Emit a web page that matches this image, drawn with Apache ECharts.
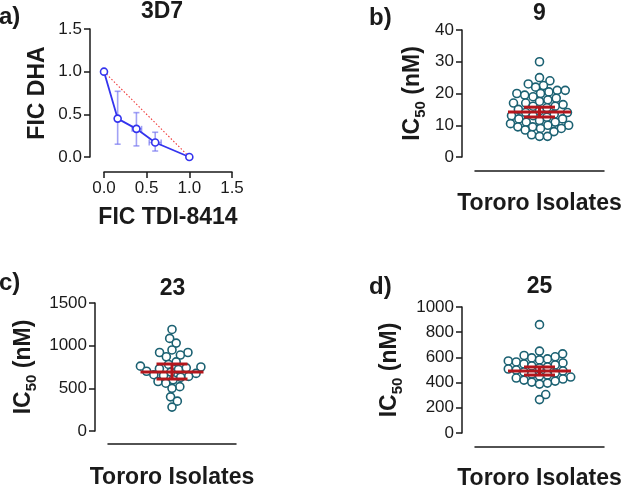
<!DOCTYPE html>
<html><head><meta charset="utf-8">
<script src="https://cdn.jsdelivr.net/npm/echarts@6/dist/echarts.min.js"></script>
<style>html,body{margin:0;padding:0;background:#fff}#c{width:622px;height:488px}</style>
</head><body><div id="c"></div>
<script>
// ---- Panel a: isobologram (3D7) ----
const ficTDI   = [0.00, 0.16, 0.38, 0.60, 1.00];
const ficDHA   = [1.00, 0.45, 0.33, 0.17, 0.00];
const ficDHAlo = [1.00, 0.15, 0.13, 0.07, 0.00];
const ficDHAhi = [1.00, 0.77, 0.52, 0.29, 0.00];
const ficTDIlo = [0.00, 0.16, 0.33, 0.53, 1.00];
const ficTDIhi = [0.00, 0.16, 0.44, 0.67, 1.00];
const additivityX = [0, 1];
const additivityY = [1, 0];
const ficTicks = [0, 0.5, 1.0, 1.5];

// ---- Panels b-d: IC50 of Tororo isolates ----
const ic50_9 = [30, 25, 24, 23, 22.5, 22, 21, 21, 20.5, 20, 20, 19.5, 19, 18.5, 18, 17.5, 17, 17, 16.5, 16,
  16, 15.5, 15, 14.5, 14, 14, 13.5, 13, 13, 12.5, 12, 12, 11.5, 11, 11, 10.5, 10, 10, 9.5, 9.5,
  9, 9, 8.5, 8, 7, 6.5, 6.5];
const ic50_23 = [1190, 1085, 1030, 950, 920, 920, 890, 870, 810, 780, 760, 750, 740, 730, 720,
  700, 690, 675, 660, 650, 640, 630, 600, 580, 560, 520, 500, 400, 350, 280];
const ic50_25 = [860, 650, 628, 615, 605, 596, 588, 580, 572, 564, 556, 548, 540, 532, 524, 516, 508,
  500, 492, 484, 476, 468, 460, 452, 444, 436, 428, 420, 412, 404, 396, 388, 305, 265];
// mean, lower CI, upper CI
const stats_9  = [14.2, 12.6, 15.7];
const stats_23 = [691, 609, 785];
const stats_25 = [492, 460, 524];
const titles = ['3D7', '9', '23', '25'];
const letters = ['a)', 'b)', 'c)', 'd)'];

// ---- layout ----
const G = [
  {left: 104, top: 29,  width: 128, height: 128},
  {left: 475, top: 30,  width: 129, height: 127},
  {left: 108, top: 303, width: 128, height: 128},
  {left: 475, top: 307, width: 129, height: 126}
];
const FONT = 'Liberation Sans, Arial, sans-serif';
const INK = '#1a1a1a';
const TEAL = '#1b6172';
const RED = '#b3161c';

function swarm(values, yMin, yMax, plotH, plotW, d) {
  const idx = values.map((_, i) => i).sort((a, b) => values[a] - values[b]);
  const placed = [];
  const out = new Array(values.length);
  idx.forEach(i => {
    const y = (values[i] - yMin) / (yMax - yMin) * plotH;
    const cands = [0];
    placed.forEach(p => {
      const dy = Math.abs(p.y - y);
      if (dy < d) { const dx = Math.sqrt(d * d - dy * dy); cands.push(p.x + dx + 0.01, p.x - dx - 0.01); }
    });
    cands.sort((a, b) => Math.abs(a) - Math.abs(b));
    let x = 0;
    for (const c of cands) {
      if (placed.every(p => (p.x - c) ** 2 + (p.y - y) ** 2 >= d * d - 0.02)) { x = c; break; }
    }
    placed.push({x, y});
    out[i] = [x / (plotW / 2), values[i]];
  });
  return out;
}

const plainFmt = v => String(v);
function yAx(gi, min, max, interval, name, nameGap, fmt) {
  return {
    gridIndex: gi, type: 'value', min, max, interval, offset: 13,
    name, nameLocation: 'middle', nameGap,
    nameTextStyle: {
      color: INK, fontFamily: FONT, fontWeight: 'bold', fontSize: 23,
      rich: {
        b: {fontFamily: FONT, fontWeight: 'bold', fontSize: 23, color: INK, lineHeight: 26, verticalAlign: 'bottom'},
        s: {fontFamily: FONT, fontWeight: 'bold', fontSize: 15, color: INK, lineHeight: 26, verticalAlign: 'bottom', padding: [0, 0, -4, 0]}
      }
    },
    axisLine: {show: true, onZero: false, lineStyle: {color: INK, width: 1.5}},
    axisTick: {show: true, length: 6, lineStyle: {color: INK, width: 1.5}},
    axisLabel: {color: INK, fontFamily: FONT, fontSize: 17, margin: 8, formatter: fmt || plainFmt},
    splitLine: {show: false}
  };
}
function xCat(gi, nameGap, offset) {
  return {
    gridIndex: gi, type: 'value', min: -1, max: 1, offset,
    name: 'Tororo Isolates', nameLocation: 'middle', nameGap,
    nameTextStyle: {color: INK, fontFamily: FONT, fontWeight: 'bold', fontSize: 23},
    axisLine: {show: true, onZero: false, lineStyle: {color: INK, width: 1.5}},
    axisTick: {show: false}, axisLabel: {show: false}, splitLine: {show: false}
  };
}
const icName = '{b|IC}{s|50}{b| (nM)}';

function statSeries(gi, st) {
  return {
    type: 'custom', xAxisIndex: gi, yAxisIndex: gi, z: 10, silent: true,
    data: [[0, st[0], st[1], st[2]]],
    renderItem(params, api) {
      const m = api.value(1), lo = api.value(2), hi = api.value(3);
      const pm = api.coord([0, m]), plo = api.coord([0, lo]), phi = api.coord([0, hi]);
      const half = 31.5, cap = 15.5;
      const st = {stroke: RED, lineWidth: 3};
      return {type: 'group', children: [
        {type: 'line', shape: {x1: pm[0] - half, y1: pm[1], x2: pm[0] + half, y2: pm[1]}, style: st},
        {type: 'line', shape: {x1: pm[0], y1: plo[1], x2: pm[0], y2: phi[1]}, style: st},
        {type: 'line', shape: {x1: pm[0] - cap, y1: plo[1], x2: pm[0] + cap, y2: plo[1]}, style: st},
        {type: 'line', shape: {x1: pm[0] - cap, y1: phi[1], x2: pm[0] + cap, y2: phi[1]}, style: st}
      ]};
    }
  };
}
function swarmSeries(gi, vals, ymin, ymax) {
  return {
    type: 'scatter', xAxisIndex: gi, yAxisIndex: gi, z: 5,
    symbol: 'circle', symbolSize: 8,
    itemStyle: {color: '#fff', borderColor: TEAL, borderWidth: 1.6, opacity: 1},
    data: swarm(vals, ymin, ymax, G[gi].height, G[gi].width, 8),
    silent: true
  };
}

const fmt1 = v => v.toFixed(1);
const errData = ficTDI.map((x, i) => [x, ficDHA[i], ficDHAlo[i], ficDHAhi[i], ficTDIlo[i], ficTDIhi[i]]);

const titlePos = [[162, 11.5], [539.5, 14], [172.5, 288.5], [539.5, 287]];
const letterPos = [[-1, 17], [369, 18], [-1, 283], [369, 287]];
const graphic = [];
titles.forEach((t, i) => graphic.push({type: 'text', x: titlePos[i][0], y: titlePos[i][1],
  style: {text: t, fill: INK, font: 'bold 23px ' + FONT, align: 'center', verticalAlign: 'middle', textAlign: 'center', textVerticalAlign: 'middle'}}));
letters.forEach((t, i) => graphic.push({type: 'text', x: letterPos[i][0], y: letterPos[i][1],
  style: {text: t, fill: INK, font: 'bold 24px ' + FONT, align: 'left', verticalAlign: 'middle', textAlign: 'left', textVerticalAlign: 'middle'}}));

const option = {
  animation: false,
  backgroundColor: '#fff',
  grid: G.map(g => Object.assign({outerBoundsMode: 'none', containLabel: false}, g)),
  graphic,
  xAxis: [
    {
      gridIndex: 0, type: 'value', min: ficTicks[0], max: ficTicks[ficTicks.length - 1], interval: 0.5, offset: 15,
      name: 'FIC TDI-8414', nameLocation: 'middle', nameGap: 34,
      nameTextStyle: {color: INK, fontFamily: FONT, fontWeight: 'bold', fontSize: 23},
      axisLine: {show: true, onZero: false, lineStyle: {color: INK, width: 1.5}},
      axisTick: {show: true, length: 6, lineStyle: {color: INK, width: 1.5}},
      axisLabel: {color: INK, fontFamily: FONT, fontSize: 17, margin: 8, formatter: fmt1},
      splitLine: {show: false}
    },
    xCat(1, 21, 14), xCat(2, 22, 13), xCat(3, 20, 14)
  ],
  yAxis: [
    Object.assign(yAx(0, 0, 1.5, 0.5, 'FIC DHA', 41, fmt1), {offset: 14}),
    yAx(1, 0, 40, 10, icName, 38),
    yAx(2, 0, 1500, 500, icName, 60),
    yAx(3, 0, 1000, 200, icName, 61)
  ],
  series: [
    {
      type: 'line', xAxisIndex: 0, yAxisIndex: 0, z: 3, silent: true,
      data: additivityX.map((x, i) => [x, additivityY[i]]),
      symbol: 'none', lineStyle: {color: '#f03a3a', width: 1.1, type: [1.5, 2]}
    },
    {
      type: 'custom', xAxisIndex: 0, yAxisIndex: 0, z: 4, silent: true,
      data: errData,
      renderItem(params, api) {
        const x = api.value(0), y = api.value(1);
        const ylo = api.value(2), yhi = api.value(3), xlo = api.value(4), xhi = api.value(5);
        const st = {stroke: 'rgba(110,110,240,0.65)', lineWidth: 1.6};
        const ch = [];
        if (yhi > ylo) {
          const a = api.coord([x, ylo]), b = api.coord([x, yhi]);
          ch.push({type: 'line', shape: {x1: a[0], y1: a[1], x2: b[0], y2: b[1]}, style: st});
          ch.push({type: 'line', shape: {x1: a[0] - 3, y1: a[1], x2: a[0] + 3, y2: a[1]}, style: st});
          ch.push({type: 'line', shape: {x1: b[0] - 3, y1: b[1], x2: b[0] + 3, y2: b[1]}, style: st});
        }
        if (xhi > xlo) {
          const a = api.coord([xlo, y]), b = api.coord([xhi, y]);
          ch.push({type: 'line', shape: {x1: a[0], y1: a[1], x2: b[0], y2: b[1]}, style: st});
          ch.push({type: 'line', shape: {x1: a[0], y1: a[1] - 3, x2: a[0], y2: a[1] + 3}, style: st});
          ch.push({type: 'line', shape: {x1: b[0], y1: b[1] - 3, x2: b[0], y2: b[1] + 3}, style: st});
        }
        return {type: 'group', children: ch};
      }
    },
    {
      type: 'line', xAxisIndex: 0, yAxisIndex: 0, z: 6, silent: true,
      data: ficTDI.map((x, i) => [x, ficDHA[i]]),
      symbol: 'circle', symbolSize: 7,
      lineStyle: {color: '#3434ee', width: 1.8},
      itemStyle: {color: '#fff', borderColor: '#3434ee', borderWidth: 1.6}
    },
    swarmSeries(1, ic50_9, 0, 40), statSeries(1, stats_9),
    swarmSeries(2, ic50_23, 0, 1500), statSeries(2, stats_23),
    swarmSeries(3, ic50_25, 0, 1000), statSeries(3, stats_25)
  ]
};
const chart = echarts.init(document.getElementById('c'), null, {renderer: 'canvas'});
chart.setOption(option);
</script>
</body></html>
